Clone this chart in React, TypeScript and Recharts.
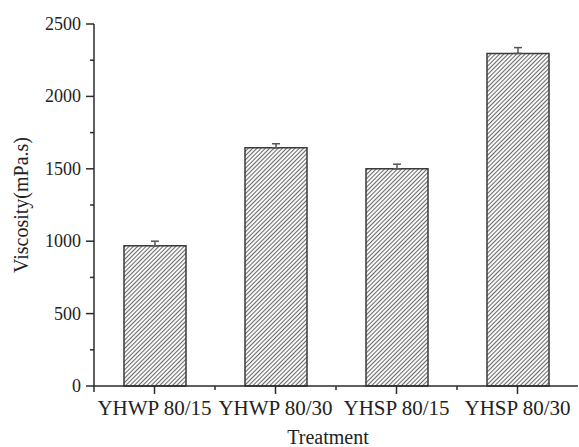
import React from 'react';
import { BarChart, Bar, XAxis, YAxis, ErrorBar, Label } from 'recharts';

const categories = ['YHWP 80/15', 'YHWP 80/30', 'YHSP 80/15', 'YHSP 80/30'];
const viscosity = [968, 1645, 1500, 2297];
const errorUp = [32, 28, 32, 40];
const yTicks = [0, 250, 500, 750, 1000, 1250, 1500, 1750, 2000, 2250, 2500];

const data = categories.map((name, i) => ({
  name,
  viscosity: viscosity[i],
  err: [0, errorUp[i]],
}));

const W = 579;
const H = 447;
const LEFT = 94;
const RIGHT = 1;
const band = (W - LEFT - RIGHT) / categories.length;

const axisColor = '#2b2b2b';
const font = 'Liberation Serif';

const YTick = (props: any) => {
  const { x, y, payload } = props;
  const major = payload.value % 500 === 0;
  return (
    <g>
      <line x1={x} x2={x - (major ? 8 : 4)} y1={y} y2={y} stroke={axisColor} strokeWidth={1.5} />
      {payload.value === 0 && <line x1={x} x2={x} y1={y} y2={y + 6} stroke={axisColor} strokeWidth={1.5} />}
      {major && (
        <text x={x - 13} y={y} dy={6} textAnchor="end" fontFamily={font} fontSize={18} fill="#222">
          {payload.value}
        </text>
      )}
    </g>
  );
};

const XTick = (props: any) => {
  const { x, y, payload, index } = props;
  return (
    <g>
      <line x1={x} x2={x} y1={y} y2={y + 8} stroke={axisColor} strokeWidth={1.5} />
      {index < categories.length - 1 && (
        <line x1={x + band / 2} x2={x + band / 2} y1={y} y2={y + 4} stroke={axisColor} strokeWidth={1.5} />
      )}
      <text x={x} y={y + 29} textAnchor="middle" fontFamily={font} fontSize={21} fill="#222">
        {payload.value}
      </text>
    </g>
  );
};

const YTitle = (props: any) => {
  const { viewBox } = props;
  const cx = viewBox.x + 28;
  const cy = viewBox.y + viewBox.height / 2;
  return (
    <text x={cx} y={cy} transform={`rotate(-90 ${cx} ${cy})`} textAnchor="middle" fontFamily={font} fontSize={20} fill="#222">
      Viscosity(mPa.s)
    </text>
  );
};

const XTitle = (props: any) => {
  const { viewBox } = props;
  const cx = viewBox.x + viewBox.width / 2 - 8;
  return (
    <text x={cx} y={viewBox.y + 58} textAnchor="middle" fontFamily={font} fontSize={20} fill="#222">
      Treatment
    </text>
  );
};

export default function App() {
  return (
    <div style={{ position: 'absolute', left: 0, top: 0, width: W, height: H, background: '#fff' }}>
      <svg width={0} height={0} style={{ position: 'absolute' }}>
        <defs>
          <pattern id="hatch" patternUnits="userSpaceOnUse" width={3} height={3} patternTransform="rotate(45)">
            <rect width={3} height={3} fill="#fff" />
            <line x1={1.5} y1={0} x2={1.5} y2={3} stroke="#6a6a6a" strokeWidth={1.1} />
          </pattern>
        </defs>
      </svg>
      <BarChart width={W} height={H} data={data} margin={{ top: 24, right: RIGHT, bottom: 0, left: 0 }}>
        <XAxis
          dataKey="name"
          height={61}
          tickSize={0}
          tickMargin={0}
          tickLine={false}
          tick={<XTick />}
          interval={0}
          stroke={axisColor}
          strokeWidth={1.5}
        >
          <Label content={<XTitle />} />
        </XAxis>
        <YAxis
          width={LEFT}
          domain={[0, 2500]}
          ticks={yTicks}
          interval={0}
          tickSize={0}
          tickMargin={0}
          tickLine={false}
          tick={<YTick />}
          stroke={axisColor}
          strokeWidth={1.5}
        >
          <Label content={<YTitle />} />
        </YAxis>
        <Bar dataKey="viscosity" barSize={62} fill="url(#hatch)" stroke="#3a3a3a" strokeWidth={1.5} isAnimationActive={false}>
          <ErrorBar dataKey="err" width={4} stroke="#555" strokeWidth={1.5} direction="y" />
        </Bar>
      </BarChart>
    </div>
  );
}
